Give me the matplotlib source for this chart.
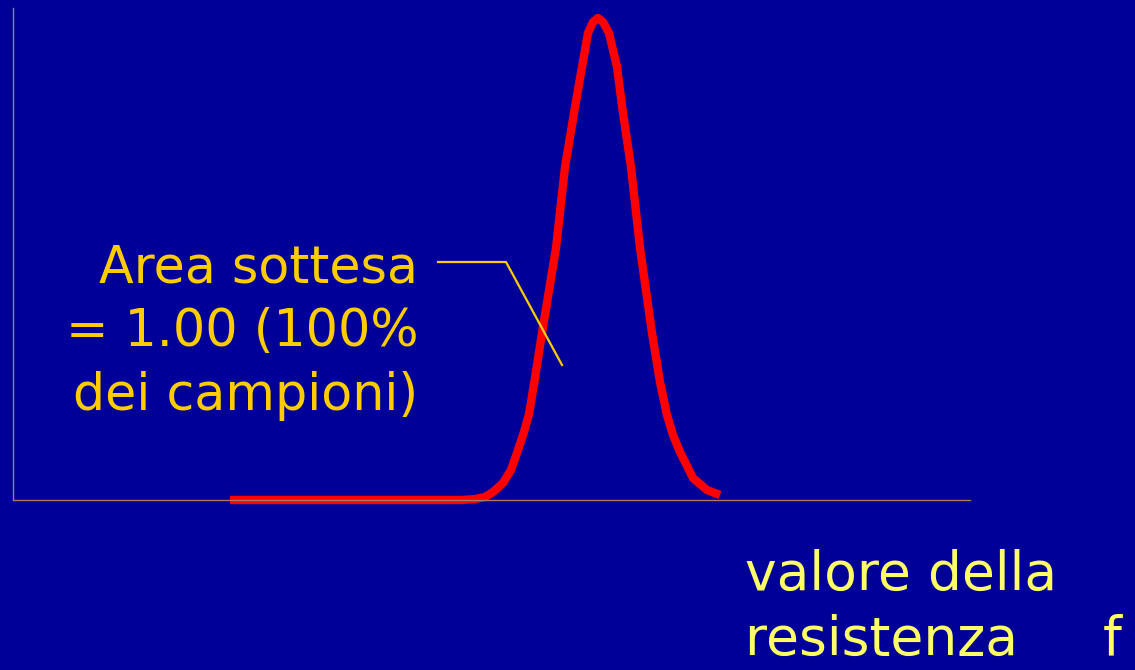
import numpy as np
import matplotlib.pyplot as plt

# curve (x: resistance, y: frequency, arbitrary units)
res_x = [230, 462, 475, 485, 493, 503, 511, 518, 524, 529, 535, 542, 556, 565, 574, 582,
         588, 593, 598, 603, 609, 617, 623, 631, 640, 652, 660, 667, 673, 680, 693, 707, 720]
freq_y = [0, 0, 1, 3, 8, 17, 30, 50, 68, 86, 122, 167, 252, 333, 387, 433,
          467, 478, 482, 478, 467, 433, 387, 333, 252, 167, 118, 85, 65, 48, 22, 10, 5]

label_area = "Area sottesa\n= 1.00 (100%\ndei campioni)"
label_x = "valore della\nresistenza     f"

bg = '#000099'
fig = plt.figure(figsize=(11.35, 6.7), dpi=100, facecolor=bg)
ax = fig.add_axes([13/1135, 170/670, 957/1135, 492/670], facecolor=bg)

ax.plot(res_x, freq_y, color='#ff0000', linewidth=6, solid_capstyle='butt',
        solid_joinstyle='round', clip_on=False)

# leader line for the label
ax.plot([438, 506, 562], [238, 238, 135], color='#ffcc00', linewidth=1.6)
ax.text(418, 256, label_area, color='#ffcc00', fontsize=36.5, ha='right',
        va='top', multialignment='right', linespacing=1.34,
        family='DejaVu Sans')

ax.set_xlim(13, 970)
ax.set_ylim(0, 492)
for s in ['top', 'right']:
    ax.spines[s].set_visible(False)
for s in ['left', 'bottom']:
    ax.spines[s].set_color('#a87868')
    ax.spines[s].set_linewidth(1)
ax.set_xticks([])
ax.set_yticks([])

fig.text(745/1135, 1 - 549/670, label_x, color='#ffff66', fontsize=38.5,
         ha='left', va='top', linespacing=1.31, family='DejaVu Sans')

plt.savefig('out.png', dpi=100, facecolor=bg)
